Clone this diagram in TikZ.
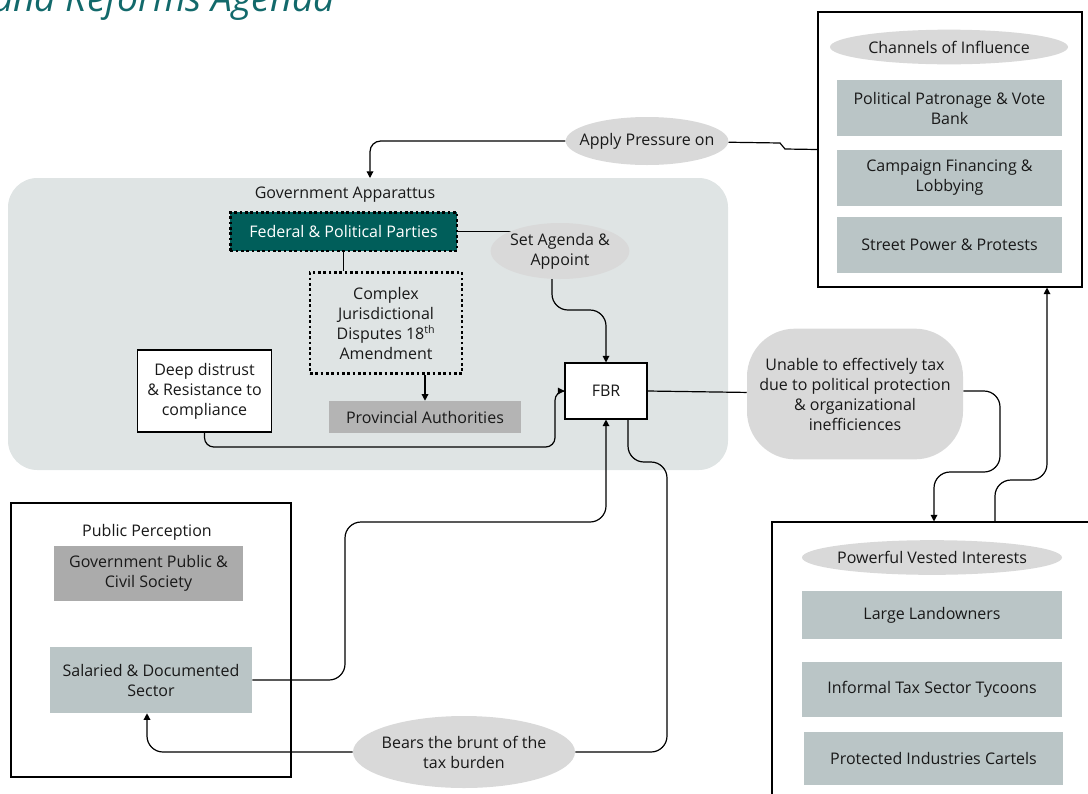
\documentclass[tikz,border=0pt]{standalone}
\usepackage{fontspec}
\setmainfont{Open Sans}
\usetikzlibrary{shapes.geometric,arrows.meta,backgrounds}
\definecolor{govgrey}{HTML}{DFE4E4}
\definecolor{darkteal}{HTML}{005E5A}
\definecolor{itemgrey}{HTML}{BAC5C6}
\definecolor{ovalgrey}{HTML}{D9D9D9}
\definecolor{provgrey}{HTML}{B4B4B4}
\definecolor{publgrey}{HTML}{ABABAB}
\definecolor{titleteal}{HTML}{12696B}
\begin{document}
\begin{tikzpicture}[x=0.75pt, y=-0.75pt,
    font=\fontsize{12}{15}\selectfont,
    >={Triangle[length=5pt,width=5pt]},
    every node/.style={text=black!90, align=center, inner sep=0pt},
    box/.style={draw, line width=0.8pt, fill=white},
    item/.style={fill=itemgrey},
    oval/.style={ellipse, fill=ovalgrey, inner xsep=-12pt, inner ysep=-4pt},
    dotbox/.style={draw=black, line width=2pt, dash pattern=on 2pt off 2pt},
    link/.style={line width=0.9pt}]
    \useasboundingbox (0,0) rectangle (1088,793);
    \clip (0,0) rectangle (1088,793);

    \node[font=\fontsize{28}{32}\selectfont\itshape, text=titleteal, anchor=base east] (title) at (335,11) {and Reforms Agenda};

    \node (govlbl) at (345,195) {Government Apparattus};
    \node[dotbox, fill=darkteal, text=white, minimum width=170pt, minimum height=29pt] (fed) at (343.5,231.5) {Federal \& Political Parties};
    \node[dotbox, minimum width=114pt, minimum height=76pt] (cx) at (386,323) {Complex\\Jurisdictional\\Disputes 18\textsuperscript{th}\\Amendment};
    \node[fill=provgrey, minimum width=144pt, minimum height=24pt] (prov) at (425,417) {Provincial Authorities};
    \node[box, minimum width=100pt, minimum height=61.5pt] (dist) at (204.5,391) {Deep distrust\\\& Resistance to\\compliance};
    \node[box, minimum width=61.5pt, minimum height=42pt] (fbr) at (606,391) {FBR};
    \node[oval, minimum width=104pt, minimum height=42pt] (agenda) at (560,251) {Set Agenda \&\\Appoint};
    \node[oval, minimum width=122pt, minimum height=36pt] (press) at (647,141) {Apply Pressure on};
    \node[fill=ovalgrey, rounded corners=36pt, minimum width=162pt, minimum height=98pt] (unable) at (855,394) {Unable to effectively tax\\due to political protection\\\& organizational\\inefficiences};

    \node[oval, minimum width=178.5pt, minimum height=26pt] (chanlbl) at (949,47) {Channels of Influence};
    \node[item, minimum width=168.75pt, minimum height=42pt] (patron) at (949.5,108) {Political Patronage \& Vote\\Bank};
    \node[item, minimum width=168.75pt, minimum height=42pt] (campaign) at (949.5,178) {Campaign Financing \&\\Lobbying};
    \node[item, minimum width=168.75pt, minimum height=42pt] (street) at (949.5,245) {Street Power \& Protests};

    \node[oval, minimum width=195pt, minimum height=26pt] (pvilbl) at (932,557.5) {Powerful Vested Interests};
    \node[item, minimum width=195pt, minimum height=36pt] (land) at (932,615) {Large Landowners};
    \node[item, minimum width=195pt, minimum height=41pt] (tycoon) at (932,689.5) {Informal Tax Sector Tycoons};
    \node[item, minimum width=194pt, minimum height=40pt] (cartel) at (933.5,758.5) {Protected Industries Cartels};

    \node (publbl) at (147,532) {Public Perception};
    \node[fill=publgrey, minimum width=141.75pt, minimum height=41.25pt] (civil) at (148.5,573.5) {Government Public \&\\Civil Society};
    \node[item, minimum width=151.5pt, minimum height=49.5pt] (salaried) at (151,680) {Salaried \& Documented\\Sector};
    \node[oval, minimum width=166.5pt, minimum height=54pt] (bears) at (464,752) {Bears the brunt of the\\tax burden};

    \begin{scope}[on background layer]
        \node[fill=govgrey, rounded corners=22pt, minimum width=540pt, minimum height=219pt] (gov) at (368,324) {};
        \node[box, minimum width=210pt, minimum height=205.5pt] (public) at (151,640) {};
        \node[box, minimum width=198pt, minimum height=206.25pt] (chan) at (950,149.5) {};
        \node[box, minimum width=243pt, minimum height=223.5pt] (pvi) at (934,671) {};
        \coordinate (govtop) at (370,178);

        \draw[link] (chan.west) -- (785,149) -- (780,143) -- (press);
        \draw[link, ->, rounded corners=8pt] (press.west) -| (govtop);
        \draw[link] (fed.east) -- (fed.east -| agenda.center);
        \draw[link] (fed.south) -- (fed.south |- cx.north);
        \draw[link, ->] (cx.south -| prov.north) -- (prov.north);
        \draw[link, ->, rounded corners=12pt] (agenda.center -| 552,0) -- (552,310) -| (fbr.north);
        \draw[link, ->, rounded corners=7pt] (dist.south) |- (555,447) |- (fbr.west);
        \draw[link, ->, rounded corners=12pt] (salaried.east) -| (345,522) -| (fbr.south);
        \draw[link, rounded corners=12pt] (fbr.south -| 628,0) |- (667,462) |- (bears.east);
        \draw[link, ->, rounded corners=12pt] (bears.west) -| (salaried.south -| 147,0);
        \draw[link] (fbr.east) -- (unable);
        \draw[link, ->, rounded corners=12pt] (unable.east |- fbr.east) -| (1000,472) -| (pvi.north);
        \draw[link, ->, rounded corners=12pt] (pvi.north -| 995,0) |- (1047,480) -- (chan.south -| 1047,0);
    \end{scope}
\end{tikzpicture}
\end{document}
